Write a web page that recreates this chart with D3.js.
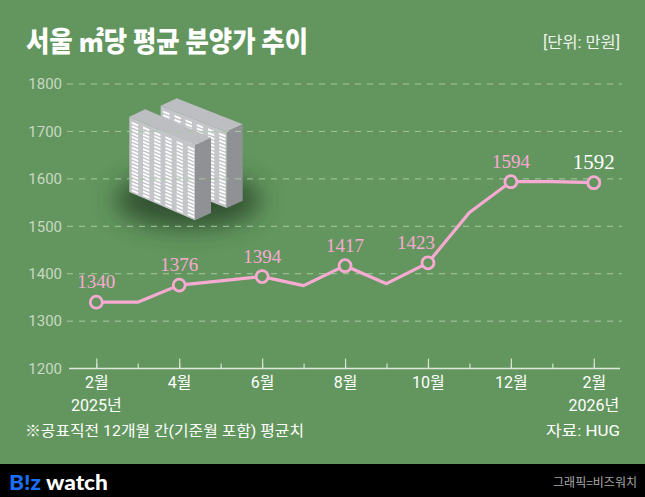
<!DOCTYPE html>
<html>
<head>
<meta charset="utf-8">
<script src="https://cdn.jsdelivr.net/npm/d3@7"></script>
<style>
	body { margin: 0; background: #62965e; }
	svg { display: block; }
</style>
</head>
<body>
<svg id="chart"></svg>
<script>
// DATA

var months = ["2025-02", "2025-03", "2025-04", "2025-05", "2025-06", "2025-07", "2025-08",
	"2025-09", "2025-10", "2025-11", "2025-12", "2026-01", "2026-02"];
var prices = [1340, 1340, 1376, 1385, 1394, 1375, 1417, 1379, 1423, 1529, 1594, 1594, 1592];

var labelMonths = ["2025-02", "2025-04", "2025-06", "2025-08", "2025-10", "2025-12", "2026-02"];
var monthLabels = ["2월", "4월", "6월", "8월", "10월", "12월", "2월"];
var yearMonths = ["2025-02", "2026-02"];
var yearLabels = ["2025년", "2026년"];
var yTicks = [1200, 1300, 1400, 1500, 1600, 1700, 1800];

// DIMENSIONS

var width = 645,
	height = 497,
	green = '#62965e',
	pink = '#f8aad3',
	font = "Roboto, 'Noto Sans CJK KR', sans-serif",
	korean = "'Noto Sans CJK KR', sans-serif";

var svg = d3.select('#chart')
	.attr('width', width)
	.attr('height', height);

svg.append('rect')
	.attr('width', width).attr('height', 464)
	.style('fill', green);

svg.append('rect')
	.attr('y', 464).attr('width', width).attr('height', height - 464)
	.style('fill', '#000');

// SCALES

var x = d3.scalePoint()
	.domain(months)
	.range([96.3, 593.8]);

var y = d3.scaleLinear()
	.domain([1200, 1800])
	.range([368.6, 84]);

// TITLE

svg.append('text')
	.attr('x', 26).attr('y', 52)
	.attr('textLength', 282).attr('lengthAdjust', 'spacingAndGlyphs')
	.style('font-family', korean).style('font-weight', 900)
	.style('font-size', '28px').style('fill', '#fff')
	.text('서울 ㎡당 평균 분양가 추이');

svg.append('text')
	.attr('x', 620).attr('y', 47.5)
	.attr('text-anchor', 'end')
	.attr('textLength', 77).attr('lengthAdjust', 'spacingAndGlyphs')
	.style('font-family', font).style('font-size', '16px')
	.style('fill', '#eef3ec')
	.text('[단위: 만원]');

// building picture

var defs = svg.append('defs');
defs.append('filter').attr('id', 'blur')
	.attr('x', '-50%').attr('y', '-50%').attr('width', '200%').attr('height', '200%')
	.append('feGaussianBlur').attr('stdDeviation', 12);

svg.append('ellipse')
	.attr('cx', 188).attr('cy', 200).attr('rx', 72).attr('ry', 28)
	.attr('filter', 'url(#blur)')
	.style('fill', '#243a22').style('opacity', 0.75);

function building(x0, y0, w, slope, h, depth) {
	var g = svg.append('g');
	var dy = w * slope;
	// top
	g.append('polygon')
		.attr('points', [[x0, y0], [x0 + depth, y0 - depth * 0.46], [x0 + w + depth, y0 + dy - depth * 0.46], [x0 + w, y0 + dy]].join(' '))
		.style('fill', '#bcbec1');
	// side
	g.append('polygon')
		.attr('points', [[x0 + w, y0 + dy], [x0 + w + depth, y0 + dy - depth * 0.46], [x0 + w + depth, y0 + dy - depth * 0.46 + h], [x0 + w, y0 + dy + h]].join(' '))
		.style('fill', '#8f9195');
	// front
	var face = g.append('g')
		.attr('transform', 'matrix(1,' + slope + ',0,1,' + x0 + ',' + y0 + ')');
	face.append('rect')
		.attr('width', w).attr('height', h)
		.style('fill', '#c3c5c8');
	for (var c = 0; c < 6; c++) {
		for (var r = 0; r < 20; r++) {
			face.append('rect')
				.attr('x', 2.5 + c * 11.2).attr('y', 4 + r * 3.55)
				.attr('width', 6.3).attr('height', 2)
				.style('fill', '#fff');
		}
	}
}

building(160.7, 105.7, 66, 0.394, 76.3, 16);
building(129.3, 116.7, 65.7, 0.431, 75.3, 16);

// GRID

svg.append('g')
	.selectAll('line').data(yTicks.slice(1))
	.enter().append('line')
	.attr('x1', 67).attr('x2', 622)
	.attr('y1', function(d) { return y(d); })
	.attr('y2', function(d) { return y(d); })
	.style('stroke', '#a9c7a3').style('stroke-width', 1)
	.style('stroke-dasharray', '6,6');

// axis

var vGuide = svg.append('g')
	.attr('transform', 'translate(62, 0)')
	.call(d3.axisLeft(y).tickValues(yTicks).tickSize(0).tickPadding(0)
		.tickFormat(d3.format('d')));
vGuide.select('.domain').remove();
vGuide.selectAll('text')
	.style('font-family', font).style('font-size', '15px')
	.style('fill', '#c8d8c3');

svg.append('line')
	.attr('x1', 69).attr('x2', 620)
	.attr('y1', y(1200)).attr('y2', y(1200))
	.style('stroke', '#dde8da').style('stroke-width', 1.5);

var minor = svg.append('g')
	.attr('transform', 'translate(0, ' + y(1200) + ')')
	.call(d3.axisBottom(x).tickValues(months).tickSize(-5).tickFormat(''));
minor.select('.domain').remove();

var hGuide = svg.append('g')
	.attr('transform', 'translate(0, ' + y(1200) + ')')
	.call(d3.axisBottom(x).tickValues(labelMonths).tickSize(-10).tickPadding(8)
		.tickFormat(function(d, i) { return monthLabels[i]; }));
hGuide.select('.domain').remove();
svg.selectAll('.tick line').style('stroke', '#d5e3d1').style('stroke-width', 1.2);
hGuide.selectAll('text')
	.style('font-family', font).style('font-size', '16px')
	.style('fill', '#fff');

svg.append('g')
	.selectAll('text').data(yearMonths)
	.enter().append('text')
	.attr('x', function(d) { return x(d); })
	.attr('y', 411)
	.attr('text-anchor', 'middle')
	.style('font-family', font).style('font-size', '16px')
	.style('fill', '#fff')
	.text(function(d, i) { return yearLabels[i]; });

// LINE

var line = d3.line()
	.x(function(d, i) { return x(months[i]); })
	.y(function(d) { return y(d); });

svg.append('path')
	.datum(prices)
	.attr('d', line)
	.style('fill', 'none').style('stroke', pink)
	.style('stroke-width', 3.2).style('stroke-linejoin', 'round');

var points = labelMonths.map(function(m) {
	return { month: m, value: prices[months.indexOf(m)] };
});

svg.append('g')
	.selectAll('circle').data(points)
	.enter().append('circle')
	.attr('cx', function(d) { return x(d.month); })
	.attr('cy', function(d) { return y(d.value); })
	.attr('r', 6)
	.style('fill', green).style('stroke', pink).style('stroke-width', 2.8);

svg.append('g')
	.selectAll('text').data(points)
	.enter().append('text')
	.attr('x', function(d, i) { return x(d.month) - (d.month === "2025-10" ? 12 : 0); })
	.attr('y', function(d) { return y(d.value) - 14; })
	.attr('text-anchor', 'middle')
	.style('font-family', "'Liberation Serif', serif")
	.style('font-size', function(d, i) { return i === points.length - 1 ? '21px' : '19px'; })
	.style('fill', function(d, i) { return i === points.length - 1 ? '#fff' : pink; })
	.text(function(d) { return d.value; });

// NOTES

svg.append('text')
	.attr('x', 25).attr('y', 436)
	.attr('textLength', 279).attr('lengthAdjust', 'spacingAndGlyphs')
	.style('font-family', font).style('font-size', '15px')
	.style('fill', '#fff')
	.text('※공표직전 12개월 간(기준월 포함) 평균치');

svg.append('text')
	.attr('x', 620).attr('y', 436)
	.attr('text-anchor', 'end')
	.attr('textLength', 74).attr('lengthAdjust', 'spacingAndGlyphs')
	.style('font-family', font).style('font-size', '15px')
	.style('fill', '#fff')
	.text('자료: HUG');

// FOOTER

var logo = svg.append('text')
	.attr('x', 9).attr('y', 490)
	.attr('textLength', 99).attr('lengthAdjust', 'spacingAndGlyphs')
	.style('font-family', 'Lato, sans-serif').style('font-weight', 900)
	.style('font-size', '20px');
logo.append('tspan').style('fill', '#1c6ef2').text('B!z');
logo.append('tspan').style('fill', '#fff').text(' watch');

svg.append('text')
	.attr('x', 637).attr('y', 487)
	.attr('text-anchor', 'end')
	.style('font-family', korean).style('font-size', '12px')
	.style('fill', '#a8a8a8')
	.text('그래픽=비즈워치');
</script>
</body>
</html>
